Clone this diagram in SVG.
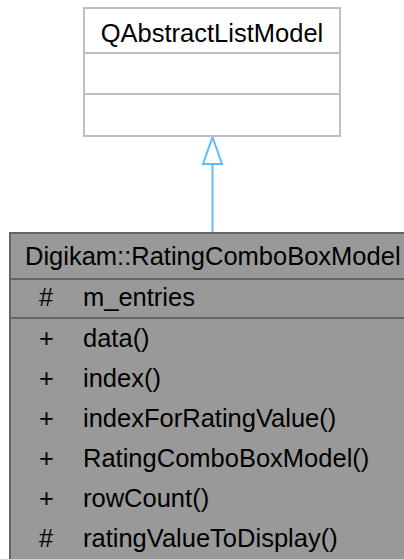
<svg xmlns="http://www.w3.org/2000/svg" width="404" height="559" viewBox="0 0 404 559">
<style>
text{font-family:"Liberation Sans",Arial,sans-serif;font-size:25.5px;fill:#000}
.base{fill:#fff;stroke:#bfbfbf;stroke-width:2}
.baseln{stroke:#bfbfbf;stroke-width:2}
.cls{fill:#999;stroke:#666;stroke-width:2}
.clsln{stroke:#666;stroke-width:2}
.edge{stroke:#63b8ff;stroke-width:2;fill:none}
.c{text-anchor:middle}
</style>
<defs>
<marker id="inh" markerUnits="userSpaceOnUse" markerWidth="24" markerHeight="34" refX="12" refY="2" orient="0" viewBox="0 0 24 34">
<path d="M12,2 L21.5,30 L2.5,30 Z" fill="#fff" stroke="#63b8ff" stroke-width="2"/>
</marker>
</defs>
<g id="connectors">
<path class="edge" d="M212.5,233 L212.5,164"/>
<path d="M212.5,137 L222,164 L203,164 Z" fill="#fff" stroke="#63b8ff" stroke-width="2"/>
</g>
<g id="QAbstractListModel">
<rect class="base" x="84" y="8" width="256" height="128"/>
<line class="baseln" x1="84" y1="53" x2="340" y2="53"/>
<line class="baseln" x1="84" y1="94" x2="340" y2="94"/>
<text class="c" x="212" y="42">QAbstractListModel</text>
</g>
<g id="RatingComboBoxModel">
<rect class="cls" x="10" y="233" width="404" height="340"/>
<line class="clsln" x1="10" y1="279" x2="414" y2="279"/>
<line class="clsln" x1="10" y1="318" x2="414" y2="318"/>
<text x="25" y="265">Digikam::RatingComboBoxModel</text>
<text x="39" y="306">#</text><text x="83" y="306">m_entries</text>
<text x="39" y="347">+</text><text x="83" y="347">data()</text>
<text x="39" y="387">+</text><text x="83" y="387">index()</text>
<text x="39" y="427">+</text><text x="83" y="427">indexForRatingValue()</text>
<text x="39" y="467">+</text><text x="83" y="467">RatingComboBoxModel()</text>
<text x="39" y="507">+</text><text x="83" y="507">rowCount()</text>
<text x="39" y="547">#</text><text x="83" y="547">ratingValueToDisplay()</text>
</g>
</svg>
